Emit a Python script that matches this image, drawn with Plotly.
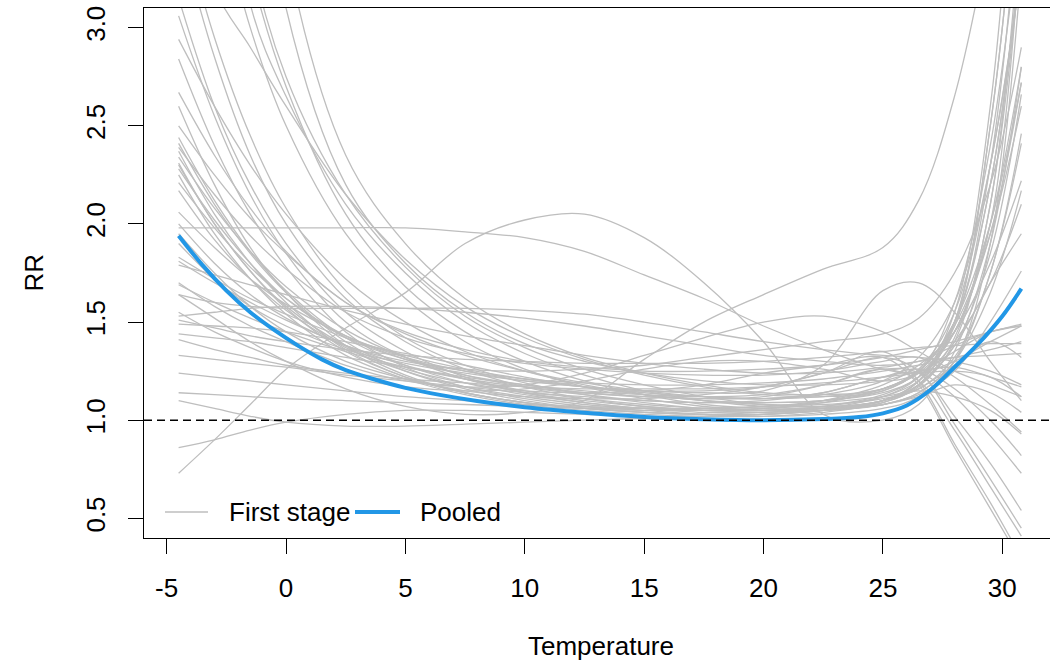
import plotly.graph_objects as go

# ---------------- data ----------------
temperature = [-4.5, -3, -1.5, 0, 2.5, 5, 7.5, 10, 12.5, 15, 17.5, 20, 22.5, 25, 26.5, 28, 29.5, 30.8]

pooled_temperature = [-4.5, -3.5, -2.5, -1.5, -0.5, 0.5, 1.5, 2.5, 3.5, 5, 6.5, 8, 10, 12.5,
                      15, 17.5, 20, 22.5, 24, 25, 26, 27, 28, 29, 30, 30.8]
pooled_rr = [1.94, 1.79, 1.66, 1.55, 1.46, 1.38, 1.31, 1.255, 1.215, 1.165, 1.128, 1.098, 1.066, 1.038,
             1.017, 1.005, 1.0, 1.006, 1.016, 1.035, 1.075, 1.155, 1.27, 1.39, 1.53, 1.67]

first_stage_rr = [
    [3.15, 2.60, 2.20, 1.90, 1.55, 1.35, 1.22, 1.14, 1.09, 1.06, 1.04, 1.04, 1.06, 1.10, 1.18, 1.42, 2.10, 3.60],
    [3.50, 2.85, 2.35, 2.00, 1.62, 1.40, 1.26, 1.17, 1.11, 1.07, 1.05, 1.05, 1.07, 1.13, 1.22, 1.45, 1.95, 2.72],
    [3.60, 2.95, 2.45, 2.08, 1.66, 1.42, 1.28, 1.19, 1.13, 1.09, 1.06, 1.05, 1.06, 1.10, 1.16, 1.28, 1.40, 1.32],
    [4.00, 3.20, 2.90, 2.60, 2.15, 1.82, 1.58, 1.42, 1.31, 1.23, 1.17, 1.13, 1.12, 1.15, 1.25, 1.50, 2.20, 3.40],
    [4.50, 3.70, 3.00, 2.50, 1.95, 1.62, 1.40, 1.26, 1.17, 1.11, 1.07, 1.05, 1.05, 1.08, 1.14, 1.30, 1.65, 2.17],
    [5.00, 4.20, 3.30, 2.70, 2.05, 1.68, 1.45, 1.30, 1.20, 1.13, 1.08, 1.06, 1.06, 1.09, 1.18, 1.50, 2.50, 4.00],
    [5.50, 4.40, 3.12, 2.65, 2.10, 1.75, 1.50, 1.34, 1.23, 1.15, 1.10, 1.07, 1.06, 1.08, 1.14, 1.30, 1.75, 2.41],
    [6.00, 4.80, 3.40, 2.75, 2.15, 1.78, 1.53, 1.37, 1.26, 1.18, 1.12, 1.08, 1.07, 1.10, 1.20, 1.55, 2.60, 4.50],
    [8.00, 6.00, 4.40, 3.10, 2.20, 1.80, 1.55, 1.39, 1.30, 1.24, 1.20, 1.18, 1.18, 1.20, 1.25, 1.27, 1.22, 1.17],
    [9.00, 7.00, 5.00, 3.40, 2.35, 1.90, 1.62, 1.44, 1.32, 1.24, 1.18, 1.14, 1.13, 1.16, 1.26, 1.55, 2.30, 3.30],
    [3.06, 2.55, 2.15, 1.85, 1.50, 1.32, 1.21, 1.14, 1.10, 1.07, 1.05, 1.04, 1.05, 1.08, 1.13, 1.25, 1.50, 1.76],
    [2.94, 2.60, 2.30, 2.05, 1.72, 1.50, 1.35, 1.25, 1.18, 1.13, 1.10, 1.08, 1.08, 1.11, 1.16, 1.32, 1.75, 2.46],
    [2.84, 2.40, 2.05, 1.78, 1.45, 1.27, 1.17, 1.11, 1.07, 1.05, 1.03, 1.02, 1.03, 1.06, 1.12, 1.30, 1.90, 3.30],
    [2.67, 2.35, 2.08, 1.86, 1.60, 1.45, 1.36, 1.30, 1.27, 1.25, 1.25, 1.26, 1.28, 1.32, 1.36, 1.40, 1.45, 1.49],
    [2.60, 2.20, 1.88, 1.65, 1.38, 1.23, 1.14, 1.09, 1.06, 1.04, 1.03, 1.03, 1.05, 1.10, 1.20, 1.48, 2.30, 3.80],
    [2.50, 2.25, 2.03, 1.85, 1.60, 1.44, 1.33, 1.25, 1.19, 1.15, 1.12, 1.11, 1.14, 1.22, 1.24, 1.12, 0.92, 0.73],
    [2.44, 2.12, 1.86, 1.66, 1.42, 1.28, 1.19, 1.13, 1.09, 1.06, 1.05, 1.05, 1.07, 1.12, 1.20, 1.40, 1.70, 2.10],
    [2.41, 2.10, 1.85, 1.65, 1.40, 1.25, 1.16, 1.10, 1.06, 1.04, 1.03, 1.03, 1.05, 1.10, 1.18, 1.38, 1.85, 2.66],
    [2.39, 2.15, 1.94, 1.77, 1.55, 1.42, 1.34, 1.29, 1.26, 1.24, 1.23, 1.23, 1.25, 1.30, 1.32, 1.22, 1.08, 0.94],
    [2.37, 2.05, 1.80, 1.60, 1.36, 1.22, 1.14, 1.09, 1.06, 1.04, 1.03, 1.04, 1.06, 1.12, 1.22, 1.50, 2.50, 4.00],
    [2.34, 2.08, 1.86, 1.68, 1.46, 1.32, 1.23, 1.17, 1.13, 1.10, 1.09, 1.10, 1.14, 1.22, 1.26, 1.16, 1.00, 0.82],
    [2.31, 2.00, 1.76, 1.57, 1.35, 1.22, 1.14, 1.09, 1.06, 1.05, 1.05, 1.06, 1.10, 1.18, 1.28, 1.45, 1.80, 2.22],
    [2.28, 2.02, 1.80, 1.62, 1.42, 1.31, 1.25, 1.21, 1.19, 1.18, 1.18, 1.19, 1.21, 1.25, 1.28, 1.32, 1.36, 1.40],
    [2.25, 1.95, 1.72, 1.54, 1.33, 1.21, 1.13, 1.08, 1.05, 1.03, 1.02, 1.02, 1.04, 1.09, 1.17, 1.40, 2.10, 3.40],
    [2.21, 1.98, 1.78, 1.62, 1.43, 1.31, 1.23, 1.18, 1.14, 1.12, 1.11, 1.12, 1.18, 1.26, 1.20, 0.95, 0.66, 0.41],
    [2.17, 1.92, 1.72, 1.56, 1.37, 1.25, 1.17, 1.12, 1.08, 1.06, 1.05, 1.06, 1.09, 1.16, 1.25, 1.48, 1.95, 2.60],
    [2.06, 1.88, 1.72, 1.59, 1.43, 1.32, 1.25, 1.20, 1.17, 1.15, 1.15, 1.17, 1.24, 1.32, 1.25, 0.98, 0.70, 0.45],
    [1.98, 1.98, 1.98, 1.98, 1.98, 1.98, 1.96, 1.93, 1.86, 1.74, 1.62, 1.48, 1.36, 1.26, 1.24, 1.30, 1.40, 1.48],
    [1.83, 1.72, 1.62, 1.54, 1.42, 1.33, 1.26, 1.21, 1.17, 1.14, 1.12, 1.11, 1.12, 1.16, 1.24, 1.45, 2.00, 3.50],
    [1.81, 1.70, 1.60, 1.51, 1.38, 1.28, 1.21, 1.15, 1.11, 1.08, 1.06, 1.05, 1.06, 1.10, 1.18, 1.38, 1.70, 1.95],
    [1.79, 1.74, 1.69, 1.64, 1.56, 1.49, 1.43, 1.38, 1.33, 1.29, 1.26, 1.24, 1.24, 1.27, 1.30, 1.32, 1.33, 1.34],
    [1.69, 1.60, 1.52, 1.45, 1.35, 1.27, 1.21, 1.17, 1.14, 1.12, 1.11, 1.11, 1.13, 1.20, 1.32, 1.60, 2.30, 3.30],
    [1.64, 1.52, 1.40, 1.30, 1.16, 1.07, 1.03, 1.04, 1.10, 1.31, 1.50, 1.64, 1.77, 1.88, 2.12, 2.65, 3.50, 4.50],
    [1.64, 1.60, 1.58, 1.57, 1.57, 1.57, 1.57, 1.56, 1.54, 1.50, 1.45, 1.40, 1.36, 1.33, 1.32, 1.30, 1.25, 1.18],
    [1.53, 1.55, 1.57, 1.58, 1.58, 1.57, 1.55, 1.52, 1.48, 1.43, 1.38, 1.33, 1.30, 1.28, 1.30, 1.38, 1.45, 1.48],
    [1.51, 1.47, 1.43, 1.40, 1.36, 1.33, 1.31, 1.30, 1.29, 1.29, 1.29, 1.30, 1.32, 1.35, 1.37, 1.38, 1.39, 1.39],
    [1.49, 1.48, 1.47, 1.45, 1.40, 1.34, 1.28, 1.22, 1.17, 1.13, 1.10, 1.09, 1.10, 1.15, 1.25, 1.50, 2.00, 2.72],
    [1.44, 1.42, 1.40, 1.37, 1.32, 1.27, 1.22, 1.18, 1.15, 1.13, 1.12, 1.13, 1.18, 1.26, 1.24, 1.02, 0.78, 0.54],
    [1.41, 1.36, 1.32, 1.28, 1.24, 1.21, 1.19, 1.17, 1.16, 1.16, 1.16, 1.17, 1.19, 1.22, 1.24, 1.25, 1.22, 1.12],
    [1.33, 1.31, 1.29, 1.27, 1.23, 1.20, 1.17, 1.14, 1.12, 1.10, 1.09, 1.09, 1.10, 1.14, 1.22, 1.45, 2.00, 2.80],
    [1.24, 1.22, 1.20, 1.18, 1.15, 1.12, 1.10, 1.08, 1.07, 1.06, 1.06, 1.07, 1.10, 1.16, 1.24, 1.35, 1.45, 1.48],
    [1.14, 1.13, 1.12, 1.11, 1.10, 1.09, 1.08, 1.07, 1.06, 1.06, 1.06, 1.07, 1.09, 1.12, 1.15, 1.12, 1.05, 0.93],
    [1.10, 1.06, 1.02, 0.99, 0.97, 0.97, 0.98, 0.99, 1.00, 1.01, 1.02, 1.03, 1.05, 1.08, 1.12, 1.18, 1.14, 1.04],
    [0.86, 0.90, 0.95, 0.99, 1.03, 1.05, 1.05, 1.04, 1.03, 1.02, 1.02, 1.03, 1.05, 1.10, 1.20, 1.50, 2.20, 3.40],
    [0.73, 0.90, 1.08, 1.26, 1.47, 1.65, 1.90, 2.02, 2.05, 1.93, 1.70, 1.40, 1.03, 1.00, 1.08, 1.35, 1.90, 2.80],
    [1.90, 1.72, 1.58, 1.48, 1.36, 1.29, 1.24, 1.20, 1.17, 1.15, 1.14, 1.15, 1.28, 1.66, 1.70, 1.55, 1.30, 1.10],
    [2.30, 2.00, 1.76, 1.58, 1.38, 1.26, 1.19, 1.15, 1.14, 1.15, 1.18, 1.24, 1.28, 1.32, 1.18, 0.86, 0.55, 0.28],
    [1.95, 1.75, 1.58, 1.45, 1.30, 1.21, 1.15, 1.12, 1.11, 1.11, 1.13, 1.17, 1.24, 1.35, 1.20, 0.88, 0.58, 0.30],
    [1.70, 1.58, 1.48, 1.40, 1.28, 1.20, 1.17, 1.18, 1.24, 1.33, 1.42, 1.50, 1.53, 1.45, 1.35, 1.25, 1.18, 1.12],
    [1.55, 1.45, 1.37, 1.30, 1.22, 1.17, 1.15, 1.16, 1.20, 1.26, 1.30, 1.30, 1.26, 1.20, 1.25, 1.60, 2.40, 3.60],
    [2.00, 1.80, 1.64, 1.52, 1.38, 1.30, 1.26, 1.25, 1.26, 1.28, 1.32, 1.36, 1.40, 1.44, 1.52, 1.75, 2.20, 2.90],
]

x_ticks = [-5, 0, 5, 10, 15, 20, 25, 30]
x_tick_labels = ["-5", "0", "5", "10", "15", "20", "25", "30"]
y_ticks = [0.5, 1.0, 1.5, 2.0, 2.5, 3.0]
y_tick_labels = ["0.5", "1.0", "1.5", "2.0", "2.5", "3.0"]
reference_rr = 1.0
legend_labels = ["First stage", "Pooled"]
x_title = "Temperature"
y_title = "RR"

# ---------------- style ----------------
GREY = "#BEBEBE"
BLUE = "#2297E6"
FONT = "Liberation Sans, Arial, sans-serif"
FS = 26

W, H = 1050, 664
ML, MR, MT, MB = 144, 0, 8, 126
PW, PH = W - ML - MR, H - MT - MB


def px_x(p):
    return (p - ML) / PW


def px_y(p):
    return (H - MB - p) / PH


fig = go.Figure()
for curve in first_stage_rr:
    fig.add_trace(go.Scatter(
        x=temperature, y=curve, mode="lines",
        line=dict(color=GREY, width=1.3, shape="spline"),
        showlegend=False, hoverinfo="skip"))

fig.add_trace(go.Scatter(
    x=pooled_temperature, y=pooled_rr, mode="lines",
    line=dict(color=BLUE, width=4, shape="spline"),
    showlegend=False, name=legend_labels[1]))

# reference line RR = 1
fig.add_shape(type="line", xref="paper", yref="y", x0=0, x1=1,
              y0=reference_rr, y1=reference_rr, layer="above",
              line=dict(color="black", width=1.4, dash="8px,5px"))

# legend (drawn R-style, no box)
leg_y = px_y(512)
fig.add_shape(type="line", xref="paper", yref="paper",
              x0=px_x(165), x1=px_x(208), y0=leg_y, y1=leg_y,
              line=dict(color=GREY, width=1.3))
fig.add_shape(type="line", xref="paper", yref="paper",
              x0=px_x(355), x1=px_x(400), y0=leg_y, y1=leg_y,
              line=dict(color=BLUE, width=4))
fig.add_annotation(text=legend_labels[0], xref="paper", yref="paper",
                   x=px_x(227), y=leg_y, xanchor="left", yanchor="middle",
                   showarrow=False, font=dict(size=FS, color="black", family=FONT))
fig.add_annotation(text=legend_labels[1], xref="paper", yref="paper",
                   x=px_x(418), y=leg_y, xanchor="left", yanchor="middle",
                   showarrow=False, font=dict(size=FS, color="black", family=FONT))

# axis titles
fig.add_annotation(text=x_title, xref="paper", yref="paper",
                   x=px_x(600.5), y=px_y(646), xanchor="center", yanchor="middle",
                   showarrow=False, font=dict(size=FS, color="black", family=FONT))
fig.add_annotation(text=y_title, xref="paper", yref="paper",
                   x=px_x(34), y=px_y(272.5), xanchor="center", yanchor="middle",
                   textangle=-90, showarrow=False,
                   font=dict(size=FS, color="black", family=FONT))

fig.update_layout(
    width=W, height=H,
    margin=dict(l=ML, r=MR, t=MT, b=MB, pad=0),
    paper_bgcolor="white", plot_bgcolor="white",
    font=dict(family=FONT, size=FS, color="black"),
    showlegend=False,
    xaxis=dict(range=[-5.95, 32.0], tickmode="array", tickvals=x_ticks,
               ticktext=x_tick_labels,
               ticks="outside", ticklen=15, tickwidth=1.3, tickcolor="black",
               showline=True, linecolor="black", linewidth=1.3, mirror=True,
               showgrid=False, zeroline=False, ticklabelstandoff=12,
               tickfont=dict(size=FS, family=FONT, color="black")),
    yaxis=dict(range=[0.4, 3.1], tickmode="array", tickvals=y_ticks,
               ticktext=y_tick_labels, tickangle=-90,
               ticks="outside", ticklen=15, tickwidth=1.3, tickcolor="black",
               showline=True, linecolor="black", linewidth=1.3, mirror=False,
               showgrid=False, zeroline=False, ticklabelstandoff=12,
               tickfont=dict(size=FS, family=FONT, color="black")),
)

fig.write_html("out.html")
